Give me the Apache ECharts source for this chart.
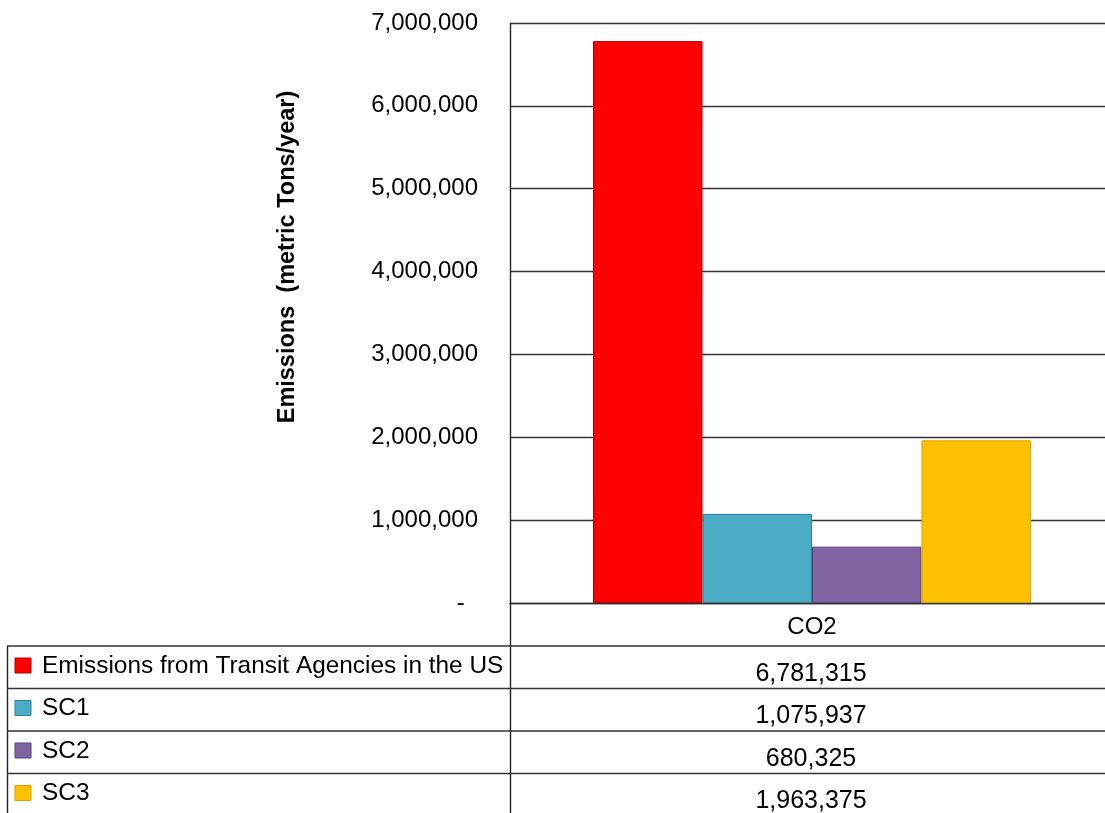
<!DOCTYPE html>
<html>
<head>
<meta charset="utf-8">
<script src="https://cdn.jsdelivr.net/npm/echarts@6/dist/echarts.min.js"></script>
<style>
html,body{margin:0;padding:0;background:#fff;}
#chart{width:1105px;height:813px;}
</style>
</head>
<body>
<div id="chart"></div>
<script>
// ---- data ----
var categories = ['CO2'];
var seriesNames = ['Emissions from Transit Agencies in the US', 'SC1', 'SC2', 'SC3'];
var seriesValues = [6781315, 1075937, 680325, 1963375];
var seriesColors = ['#FF0000', '#4BACC6', '#8064A2', '#FFC000'];
var seriesBorders = ['#B00000', '#2F8097', '#54407A', '#D9A000'];
var yTicks = [0, 1000000, 2000000, 3000000, 4000000, 5000000, 6000000, 7000000];
var yAxisTitle = 'Emissions  (metric Tons/year)';

var FONT = '"Liberation Sans", Arial, sans-serif';
var chart = echarts.init(document.getElementById('chart'), null, {renderer: 'canvas'});

function fmt(v) { return Number(v).toLocaleString('en-US'); }

var series = seriesNames.map(function (name, i) {
  return {
    name: name,
    type: 'bar',
    data: [seriesValues[i]],
    barGap: 0,
    barCategoryGap: '27.5%',
    itemStyle: {color: seriesColors[i], borderColor: seriesBorders[i], borderWidth: 1},
    emphasis: {disabled: true},
    animation: false
  };
});

// ---- data table (graphic) ----
var rowTops = [646, 688.5, 731, 773.5];
var colCenter = 811;
var graphics = [];
graphics.push({type: 'line', shape: {x1: 510.5, y1: 23, x2: 510.5, y2: 813}, style: {stroke: '#222', lineWidth: 1.4}, z: 100});
graphics.push({type: 'line', shape: {x1: 7.5, y1: 646, x2: 7.5, y2: 813}, style: {stroke: '#222', lineWidth: 1.4}, z: 100});
rowTops.forEach(function (t) {
  graphics.push({type: 'line', shape: {x1: 7, y1: t, x2: 1105, y2: t}, style: {stroke: '#333', lineWidth: 1.4}, z: 100});
});
seriesNames.forEach(function (name, i) {
  var t = rowTops[i];
  graphics.push({type: 'rect', shape: {x: 15, y: t + 12, width: 16, height: 15},
    style: {fill: seriesColors[i], stroke: seriesBorders[i], lineWidth: 1}, z: 100});
  graphics.push({type: 'text', x: 42, y: t + 20,
    style: {text: name, fill: '#000', font: '24.4px ' + FONT, textAlign: 'left', textVerticalAlign: 'middle'}, z: 100});
  graphics.push({type: 'text', x: colCenter, y: t + 28,
    style: {text: fmt(seriesValues[i]), fill: '#000', font: '25px ' + FONT, textAlign: 'center', textVerticalAlign: 'middle'}, z: 100});
});
graphics.push({type: 'text', x: 288, y: 257, rotation: Math.PI / 2,
  style: {text: yAxisTitle, fill: '#000', font: 'bold 23.5px ' + FONT, textAlign: 'center', textVerticalAlign: 'middle'}, z: 100});

var option = {
  backgroundColor: '#fff',
  animation: false,
  grid: {left: 510, width: 604, top: 23, height: 580, containLabel: false, outerBoundsMode: 'none'},
  xAxis: {
    type: 'category',
    data: categories,
    axisLine: {show: true, lineStyle: {color: '#333', width: 1.4}},
    axisTick: {show: false},
    axisLabel: {fontSize: 24, fontFamily: FONT, color: '#000', margin: 12}
  },
  yAxis: {
    type: 'value',
    min: yTicks[0],
    max: yTicks[yTicks.length - 1],
    interval: yTicks[1] - yTicks[0],
    axisLine: {show: false},
    axisTick: {show: false},
    splitLine: {show: true, lineStyle: {color: '#333', width: 1.4}},
    axisLabel: {
      fontSize: 24, fontFamily: FONT, color: '#000', margin: 32,
      formatter: function (v) { return v === 0 ? '-  ' : fmt(v); }
    }
  },
  series: series,
  graphic: graphics
};
chart.setOption(option);
</script>
</body>
</html>
